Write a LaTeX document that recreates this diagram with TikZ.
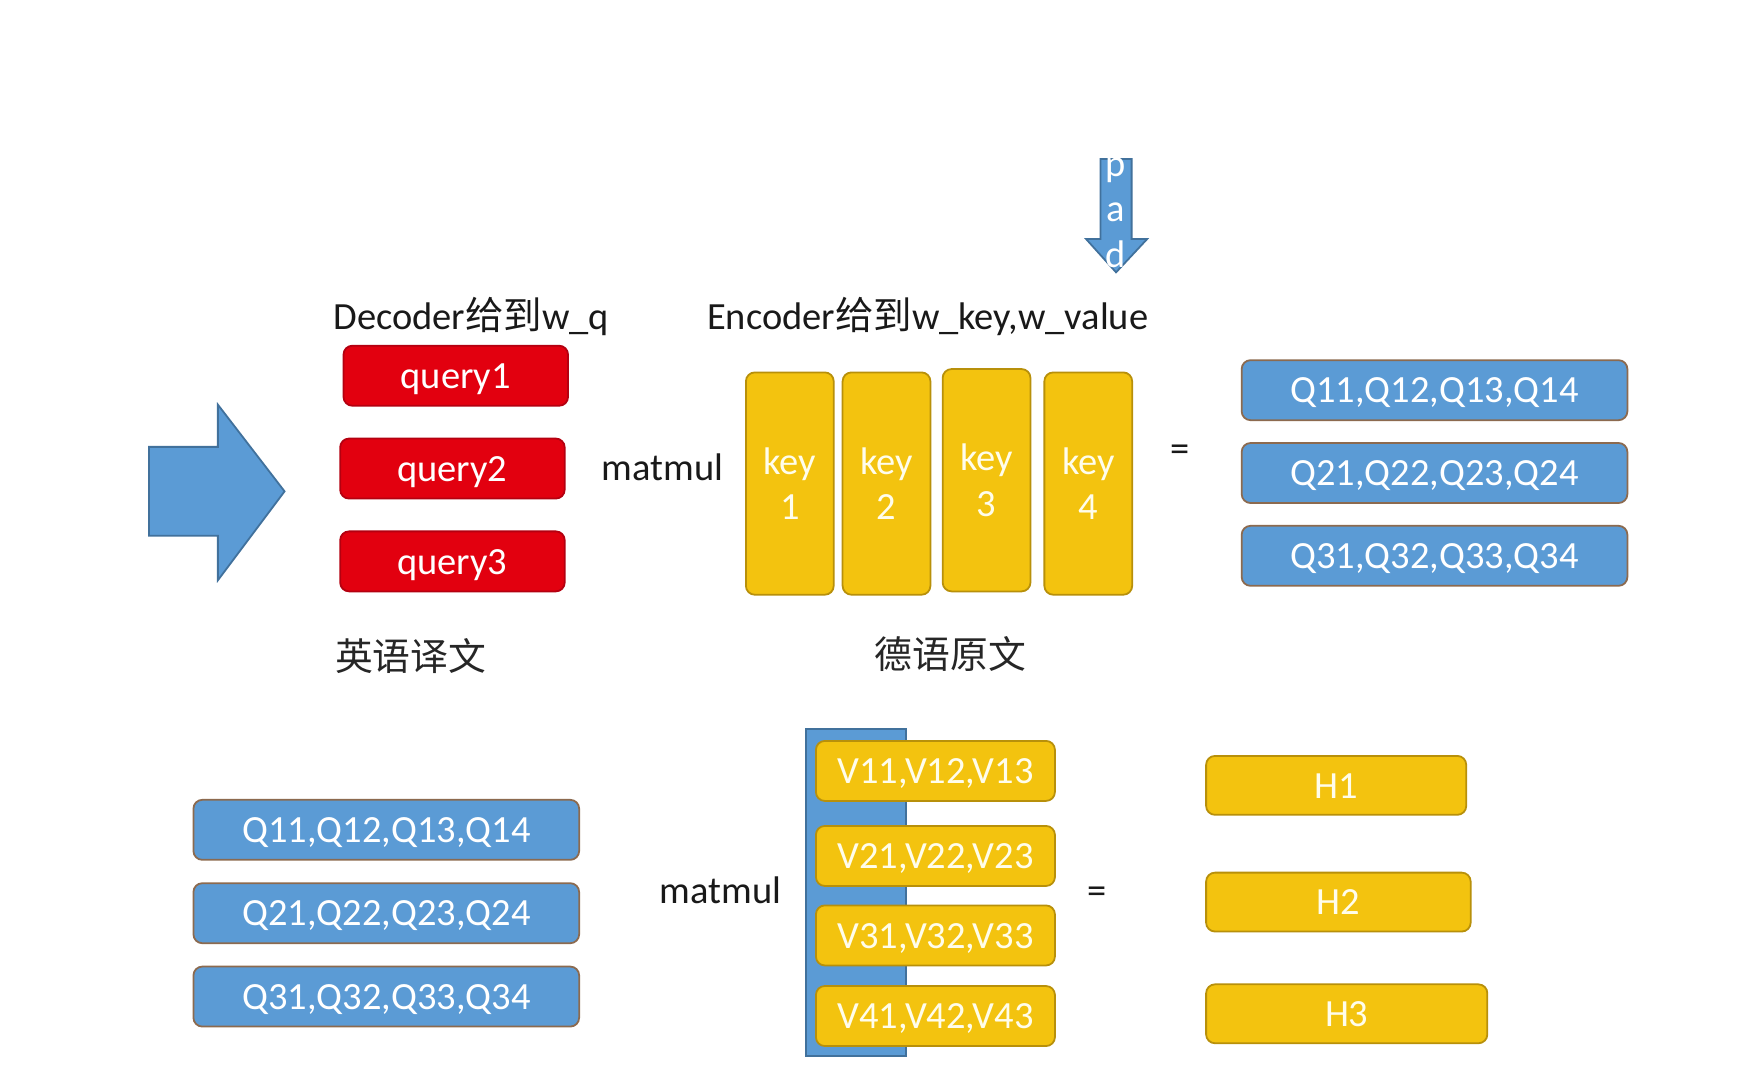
\documentclass[tikz,border=0pt]{standalone}
\usepackage{fontspec}
\setmainfont{Carlito}
\newfontfamily\cjk{Noto Sans CJK SC}
\definecolor{oblue}{HTML}{5B9BD5}
\definecolor{obluedk}{HTML}{41719C}
\definecolor{qborder}{HTML}{8C6A4F}
\definecolor{ored}{HTML}{E2000F}
\definecolor{oreddk}{HTML}{A00010}
\definecolor{ogold}{HTML}{F3C30F}
\definecolor{ogolddk}{HTML}{B8900A}
\definecolor{txtcream}{HTML}{FFFDEB}
\begin{document}
\begin{tikzpicture}[x=0.5pt,y=-0.5pt,
  base/.style={rounded corners=4pt, inner sep=0pt, line width=0.8pt,
    font=\fontsize{17.3}{20.5}\selectfont, text=white, align=center},
  onel/.style={text height=12.5pt, text depth=1pt},
  qbox/.style={base, onel, fill=oblue, draw=qborder, minimum width=173.5pt, minimum height=27pt},
  redbox/.style={base, onel, fill=ored, draw=oreddk!70!ored, minimum width=101pt, minimum height=27pt},
  keybox/.style={base, fill=ogold, draw=ogolddk, minimum width=39.5pt, minimum height=100pt, text=txtcream},
  vbox/.style={base, onel, fill=ogold, draw=ogolddk, minimum width=107.5pt, minimum height=27pt, text=txtcream},
  hbox/.style={base, onel, fill=ogold, draw=ogolddk, minimum height=26.5pt, text=txtcream},
  lbl/.style={font=\fontsize{17.3}{20.5}\selectfont, text=black!90, inner sep=0pt},
  cjklbl/.style={font=\cjk\fontsize{17}{20}\selectfont, text=black!85, inner sep=0pt},
  arrowshape/.style={fill=oblue, draw=obluedk, line width=0.8pt, line join=miter}
]
\useasboundingbox[fill=white] (0,0) rectangle (1568,966);

% big right arrow
\draw[arrowshape] (134,402) -- (196,402) -- (196,364) -- (256,442) -- (196,522) -- (196,482) -- (134,482) -- cycle;
\coordinate (bigarrow) at (190,442);

% pad arrow
\draw[arrowshape] (990,143) -- (1018,143) -- (1018,215) -- (1032,215) -- (1004,245) -- (977,215) -- (990,215) -- cycle;
\node[lbl, text=white] (padp) at (1004,153) {p};
\node[lbl, text=white] (pada) at (1004,191) {a};
\node[lbl, text=white] (padd) at (1004,229) {d};

% headings
\node[lbl] (dec) at (424,285) {Decoder{\cjk 给到}w\_q};
\node[lbl] (enc) at (834.5,285) {Encoder{\cjk 给到}w\_key,w\_value};

% queries
\node[redbox] (q1) at (410,338) {query1};
\node[redbox] (q2) at (407,421.5) {query2};
\node[redbox] (q3) at (407,505) {query3};

\node[lbl] (mm1) at (596,420) {matmul};

% keys
\node[keybox] (k1) at (710.5,435) {key\\1};
\node[keybox] (k2) at (797.5,435) {key\\2};
\node[keybox] (k3) at (887.5,432) {key\\3};
\node[keybox] (k4) at (979,435) {key\\4};

\node[lbl] (eq1) at (1062,408) {=};

% right Q boxes
\node[qbox] (rq1) at (1290.5,351) {Q11,Q12,Q13,Q14};
\node[qbox] (rq2) at (1290.5,425.5) {Q21,Q22,Q23,Q24};
\node[qbox] (rq3) at (1290.5,500) {Q31,Q32,Q33,Q34};

% chinese labels
\node[cjklbl] (en) at (369.5,590) {英语译文};
\node[cjklbl] (de) at (855,588) {德语原文};

% bottom left Q boxes
\node[qbox] (lq1) at (347.5,746.5) {Q11,Q12,Q13,Q14};
\node[qbox] (lq2) at (347.5,821.5) {Q21,Q22,Q23,Q24};
\node[qbox] (lq3) at (347.5,896.5) {Q31,Q32,Q33,Q34};

\node[lbl] (mm2) at (648,801) {matmul};

% blue backing bar
\draw[fill=oblue, draw=obluedk, line width=0.8pt] (725,656) rectangle (815,950);
\coordinate (bar) at (770,803);

% V boxes
\node[vbox] (v1) at (841.5,693.5) {V11,V12,V13};
\node[vbox] (v2) at (841.5,770) {V21,V22,V23};
\node[vbox] (v3) at (841.5,841.5) {V31,V32,V33};
\node[vbox] (v4) at (841.5,914) {V41,V42,V43};

\node[lbl] (eq2) at (987,805) {=};

% H boxes
\node[hbox, minimum width=117pt] (h1) at (1202,706.5) {H1};
\node[hbox, minimum width=119pt] (h2) at (1204,811.5) {H2};
\node[hbox, minimum width=126.5pt] (h3) at (1211.5,912) {H3};
\end{tikzpicture}
\end{document}
